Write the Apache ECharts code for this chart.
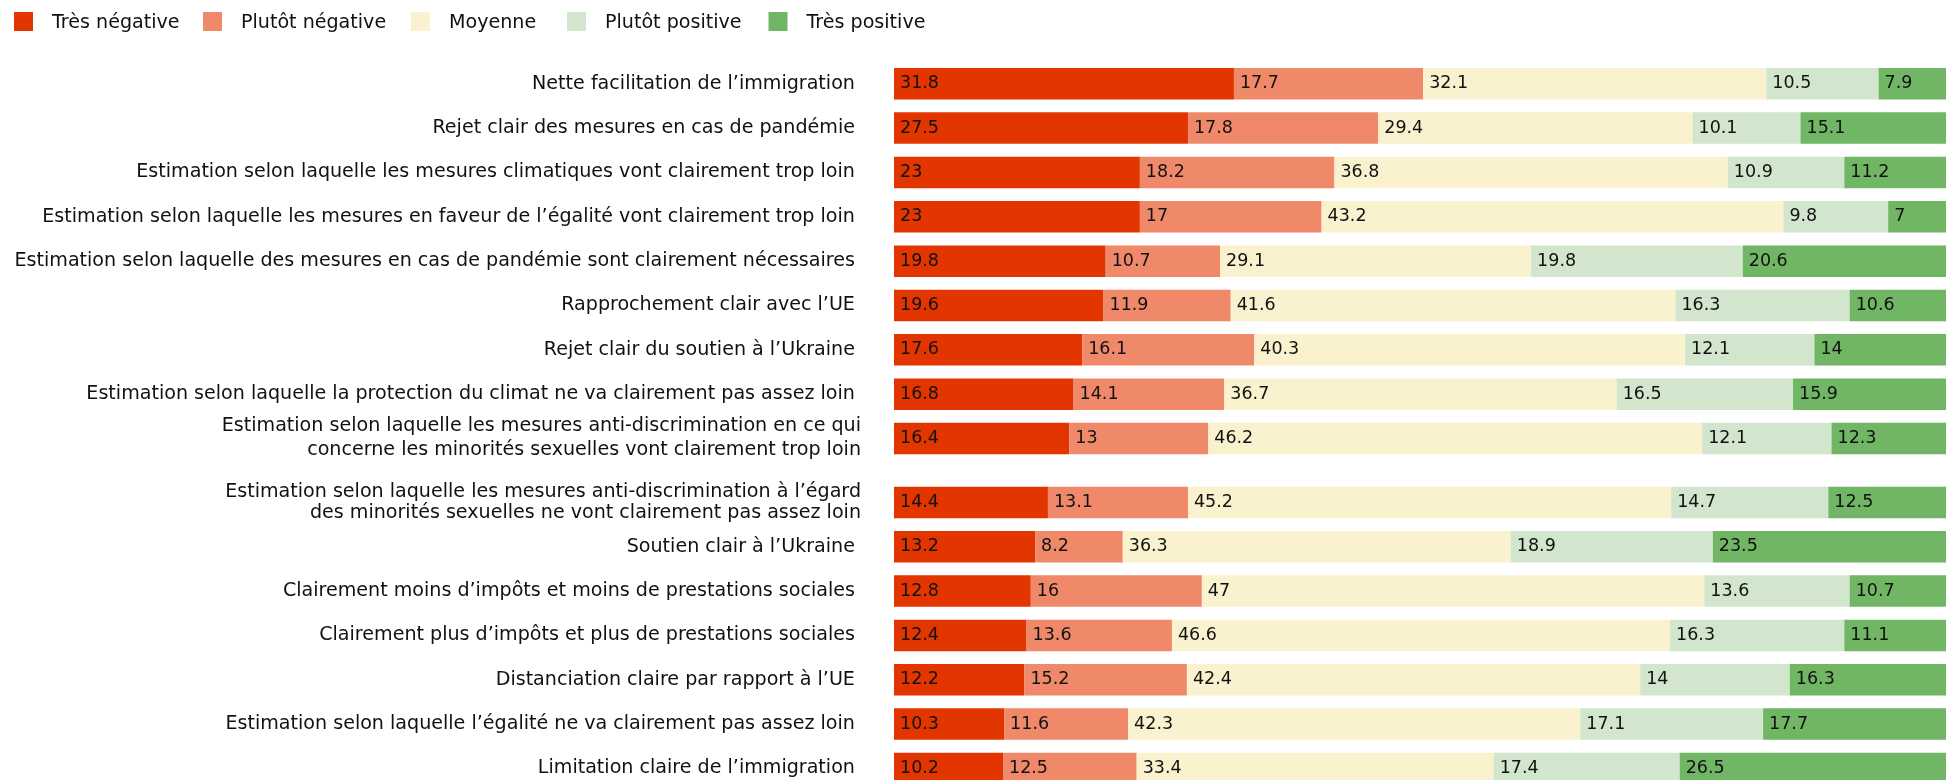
<!DOCTYPE html>
<html>
<head>
<meta charset="utf-8">
<script src="https://cdn.jsdelivr.net/npm/echarts@6/dist/echarts.min.js"></script>
<style>
html,body{margin:0;padding:0;background:#fff;}
#chart{width:1946px;height:780px;}
</style>
</head>
<body>
<div id="chart"></div>
<script>
const categories = [
  "Nette facilitation de l’immigration",
  "Rejet clair des mesures en cas de pandémie",
  "Estimation selon laquelle les mesures climatiques vont clairement trop loin",
  "Estimation selon laquelle les mesures en faveur de l’égalité vont clairement trop loin",
  "Estimation selon laquelle des mesures en cas de pandémie sont clairement nécessaires",
  "Rapprochement clair avec l’UE",
  "Rejet clair du soutien à l’Ukraine",
  "Estimation selon laquelle la protection du climat ne va clairement pas assez loin",
  "Estimation selon laquelle les mesures anti-discrimination en ce qui\nconcerne les minorités sexuelles vont clairement trop loin",
  "Estimation selon laquelle les mesures anti-discrimination à l’égard\ndes minorités sexuelles ne vont clairement pas assez loin",
  "Soutien clair à l’Ukraine",
  "Clairement moins d’impôts et moins de prestations sociales",
  "Clairement plus d’impôts et plus de prestations sociales",
  "Distanciation claire par rapport à l’UE",
  "Estimation selon laquelle l’égalité ne va clairement pas assez loin",
  "Limitation claire de l’immigration"
];
const seriesNames = ["Très négative", "Plutôt négative", "Moyenne", "Plutôt positive", "Très positive"];
const tresNegative   = [31.8, 27.5, 23, 23, 19.8, 19.6, 17.6, 16.8, 16.4, 14.4, 13.2, 12.8, 12.4, 12.2, 10.3, 10.2];
const plutotNegative = [17.7, 17.8, 18.2, 17, 10.7, 11.9, 16.1, 14.1, 13, 13.1, 8.2, 16, 13.6, 15.2, 11.6, 12.5];
const moyenne        = [32.1, 29.4, 36.8, 43.2, 29.1, 41.6, 40.3, 36.7, 46.2, 45.2, 36.3, 47, 46.6, 42.4, 42.3, 33.4];
const plutotPositive = [10.5, 10.1, 10.9, 9.8, 19.8, 16.3, 12.1, 16.5, 12.1, 14.7, 18.9, 13.6, 16.3, 14, 17.1, 17.4];
const tresPositive   = [7.9, 15.1, 11.2, 7, 20.6, 10.6, 14, 15.9, 12.3, 12.5, 23.5, 10.7, 11.1, 16.3, 17.7, 26.5];

const values = [tresNegative, plutotNegative, moyenne, plutotPositive, tresPositive];
const colors = ["#e33500", "#f0896a", "#faf2ce", "#d1e6cc", "#71b665"];
const legendLefts = [14, 203, 411, 567, 768.5];
const FONT = "'DejaVu Sans'";
const FS = 19.1;
const split = 9; // first grid holds rows 0..8

const chart = echarts.init(document.getElementById('chart'), null, {renderer: 'canvas'});

const grids = [
  {left: 894, width: 1069, top: 61.6, height: 399.1, outerBoundsMode: 'none', containLabel: false},
  {left: 894, width: 1069, top: 480.3, height: 310.3, outerBoundsMode: 'none', containLabel: false}
];
const parts = [categories.slice(0, split), categories.slice(split)];

function labelFmt(v) {
  if (v.indexOf('\n') >= 0) {
    const tag = v.indexOf('en ce qui') >= 0 ? 'a' : 'b';
    return '{' + tag + '|' + v + '}';
  }
  return v + ' ';
}

const xAxes = grids.map((g, i) => ({
  gridIndex: i, type: 'value', min: 0, max: 100,
  show: false
}));
const yAxes = parts.map((cats, i) => ({
  gridIndex: i, type: 'category', data: cats, inverse: true,
  axisLine: {show: false}, axisTick: {show: false}, splitLine: {show: false},
  axisLabel: {
    margin: 33, fontFamily: FONT, fontSize: FS, color: '#111', align: 'right',
    formatter: labelFmt,
    rich: {
      a: {fontFamily: FONT, fontSize: FS, color: '#111', lineHeight: 24, align: 'right'},
      b: {fontFamily: FONT, fontSize: FS, color: '#111', lineHeight: 21, align: 'right'}
    }
  }
}));

const series = [];
[0, 1].forEach(gi => {
  const from = gi === 0 ? 0 : split;
  const to = gi === 0 ? split : categories.length;
  seriesNames.forEach((name, si) => {
    series.push({
      name: name, type: 'bar', stack: 'total' + gi,
      xAxisIndex: gi, yAxisIndex: gi,
      barWidth: 31.5,
      itemStyle: {color: colors[si]},
      label: {
        show: true, position: 'insideLeft', distance: 6,
        fontFamily: FONT, fontSize: 17.5, color: '#111',
        formatter: p => String(p.value)
      },
      emphasis: {disabled: true},
      data: values[si].slice(from, to)
    });
  });
});

const legends = seriesNames.map((n, i) => ({
  left: legendLefts[i], top: 12, padding: 0, itemWidth: 19, itemHeight: 19,
  icon: 'rect',
  data: [n],
  formatter: name => '{t|' + name + '}',
  textStyle: {
    fontFamily: FONT, fontSize: FS, color: '#111', padding: [0, 0, 0, 14],
    rich: {t: {fontFamily: FONT, fontSize: FS, color: '#111', padding: [4, 0, 0, 0]}}
  }
}));

chart.setOption({
  animation: false,
  backgroundColor: '#fff',
  textStyle: {fontFamily: FONT},
  legend: legends,
  grid: grids,
  xAxis: xAxes,
  yAxis: yAxes,
  series: series
});
</script>
</body>
</html>
